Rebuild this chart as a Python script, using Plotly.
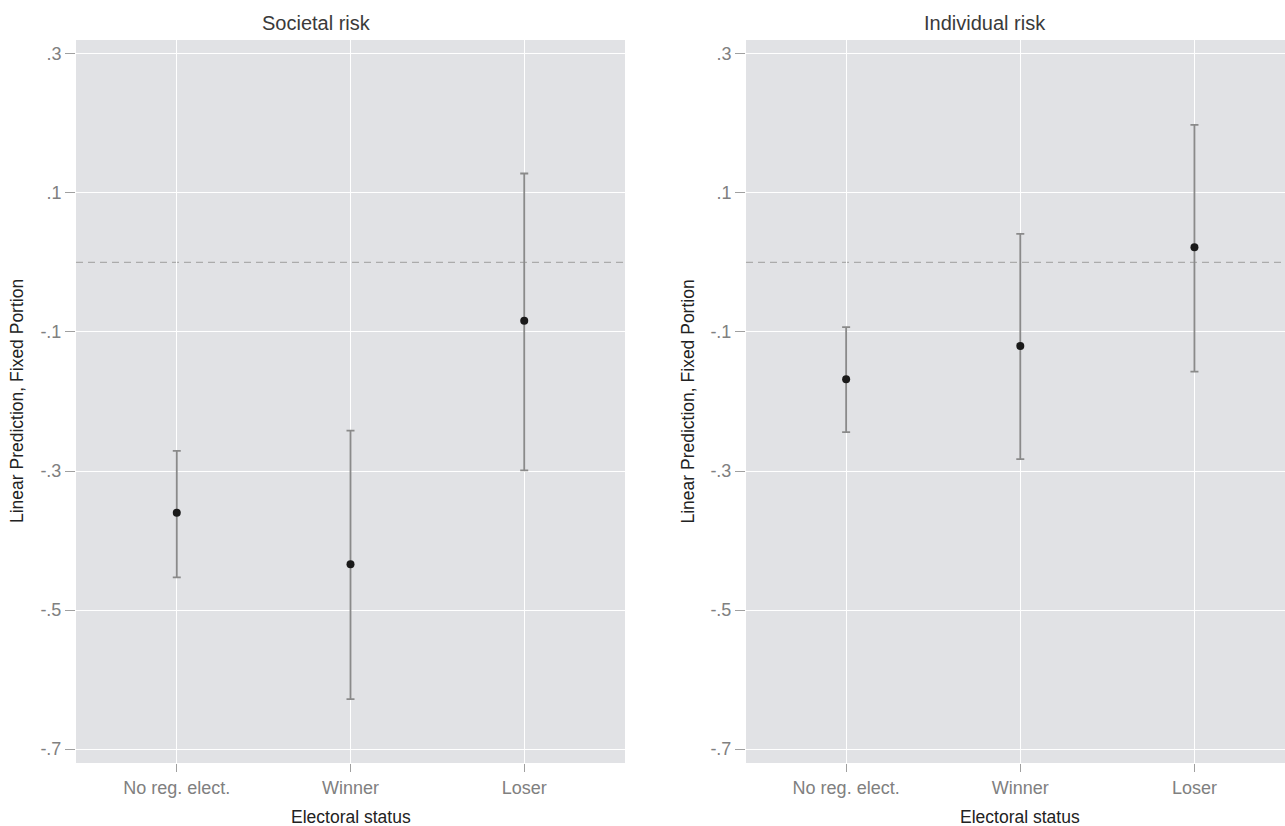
import plotly.graph_objects as go

categories = ["No reg. elect.", "Winner", "Loser"]
xpos = [1, 2, 3]

societal_est = [-0.360, -0.434, -0.084]
societal_lo = [-0.453, -0.628, -0.299]
societal_hi = [-0.271, -0.242, 0.128]

individual_est = [-0.168, -0.120, 0.022]
individual_lo = [-0.244, -0.283, -0.157]
individual_hi = [-0.093, 0.041, 0.198]

ytick_vals = [0.3, 0.1, -0.1, -0.3, -0.5, -0.7]
ytick_text = [".3", ".1", "-.1", "-.3", "-.5", "-.7"]

W, H = 1285, 826
fig = go.Figure()

def add_panel(est, lo, hi, xa, ya):
    fig.add_trace(go.Scatter(
        x=xpos, y=est, mode="markers",
        marker=dict(color="#1a1a1a", size=8),
        error_y=dict(type="data", symmetric=False,
                     array=[h - e for h, e in zip(hi, est)],
                     arrayminus=[e - l for e, l in zip(est, lo)],
                     color="#8a8a8a", thickness=1.8, width=4),
        xaxis=xa, yaxis=ya, showlegend=False, hoverinfo="skip"))

add_panel(societal_est, societal_lo, societal_hi, "x", "y")
add_panel(individual_est, individual_lo, individual_hi, "x2", "y2")

font = "Liberation Sans, Arial, sans-serif"
tickfont = dict(size=18, color="#808080", family=font)
xcommon = dict(tickmode="array", tickvals=xpos, ticktext=categories,
               showgrid=True, gridcolor="white", gridwidth=1.3,
               zeroline=False, ticks="outside", ticklen=8, tickcolor="#a0a0a0",
               tickfont=tickfont, showline=False)
ycommon = dict(tickmode="array", tickvals=ytick_vals, ticktext=ytick_text,
               range=[-0.72, 0.32], showgrid=True, gridcolor="white", gridwidth=1.3,
               zeroline=False, ticks="outside", ticklen=10, tickcolor="#a0a0a0",
               tickfont=tickfont, showline=False)

titlefont = dict(size=20, color="#3a3a3a", family=font)
axtitlefont = dict(size=17.5, color="#222222", family=font)

fig.update_layout(
    width=W, height=H,
    margin=dict(l=0, r=0, t=40, b=63),
    paper_bgcolor="white", plot_bgcolor="#e1e2e5",
    xaxis=dict(domain=[76 / W, 625 / W], range=[0.42, 3.58], anchor="y", **xcommon),
    yaxis=dict(domain=[0, 1], anchor="x", **ycommon),
    xaxis2=dict(domain=[746 / W, 1.0], range=[0.425, 3.52], anchor="y2", **xcommon),
    yaxis2=dict(domain=[0, 1], anchor="x2", **ycommon),
    shapes=[
        dict(type="line", xref="x domain", yref="y", x0=0, x1=1, y0=0, y1=0,
             line=dict(color="#ababab", width=1.3, dash="7px,5px"), layer="below"),
        dict(type="line", xref="x2 domain", yref="y2", x0=0, x1=1, y0=0, y1=0,
             line=dict(color="#ababab", width=1.3, dash="7px,5px"), layer="below"),
    ],
    annotations=[
        dict(text="Societal risk", xref="paper", yref="paper", x=316 / W, y=1,
             yshift=17, xanchor="center", yanchor="middle", showarrow=False, font=titlefont),
        dict(text="Individual risk", xref="paper", yref="paper", x=985 / W, y=1,
             yshift=17, xanchor="center", yanchor="middle", showarrow=False, font=titlefont),
        dict(text="Electoral status", xref="x domain", yref="paper", x=0.5, y=0,
             yshift=-54, xanchor="center", yanchor="middle", showarrow=False, font=axtitlefont),
        dict(text="Electoral status", xref="x2 domain", yref="paper", x=(1020 - 746) / (W - 746), y=0,
             yshift=-54, xanchor="center", yanchor="middle", showarrow=False, font=axtitlefont),
        dict(text="Linear Prediction, Fixed Portion", xref="paper", yref="paper",
             x=16.5 / W, y=0.5, textangle=-90, xanchor="center", yanchor="middle",
             showarrow=False, font=axtitlefont),
        dict(text="Linear Prediction, Fixed Portion", xref="paper", yref="paper",
             x=687 / W, y=0.5, textangle=-90, xanchor="center", yanchor="middle",
             showarrow=False, font=axtitlefont),
    ],
)

fig.write_html("out.html", config={"displayModeBar": False},
               post_script="document.body.style.margin='0';")
